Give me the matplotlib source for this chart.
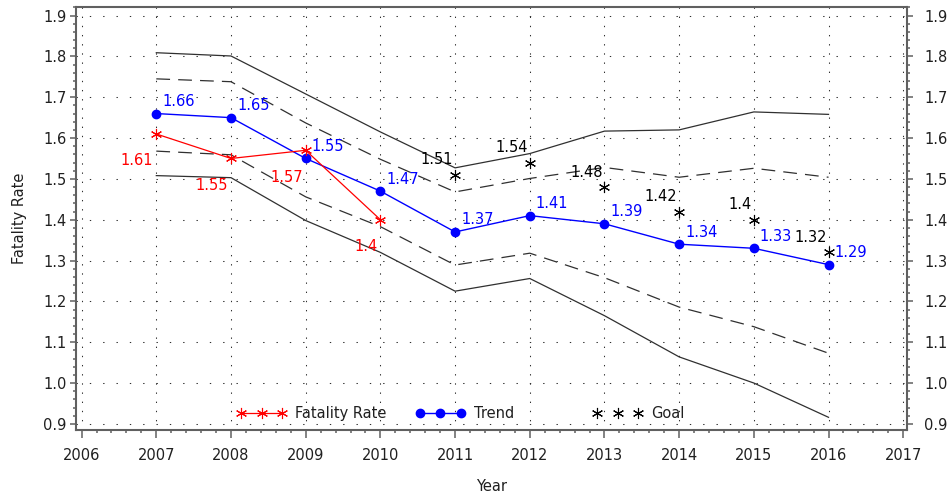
import matplotlib
matplotlib.use("Agg")
import matplotlib.pyplot as plt
from matplotlib.lines import Line2D
from matplotlib.legend import Legend
from matplotlib.ticker import MultipleLocator, FixedLocator, FormatStrFormatter

# ---- data -------------------------------------------------------------
years = [2007, 2008, 2009, 2010, 2011, 2012, 2013, 2014, 2015, 2016]

fatality_years = [2007, 2008, 2009, 2010]
fatality_rate = [1.61, 1.55, 1.57, 1.4]

trend = [1.66, 1.65, 1.55, 1.47, 1.37, 1.41, 1.39, 1.34, 1.33, 1.29]

goal_years = [2011, 2012, 2013, 2014, 2015, 2016]
goal = [1.51, 1.54, 1.48, 1.42, 1.4, 1.32]

upper_outer = [1.809, 1.801, 1.708, 1.615, 1.527, 1.562, 1.617, 1.620, 1.664, 1.658]
upper_inner = [1.745, 1.738, 1.637, 1.548, 1.468, 1.501, 1.528, 1.504, 1.526, 1.504]
lower_inner = [1.568, 1.559, 1.456, 1.383, 1.289, 1.318, 1.258, 1.186, 1.138, 1.073]
lower_outer = [1.508, 1.503, 1.398, 1.320, 1.225, 1.256, 1.165, 1.064, 1.000, 0.916]

x_ticks = list(range(2006, 2018))
y_ticks = [0.9, 1.0, 1.1, 1.2, 1.3, 1.4, 1.5, 1.6, 1.7, 1.8, 1.9]

# ---- style ------------------------------------------------------------
FS = 10.5
TXT = "#202020"
AX = "#606060"
plt.rcParams["font.family"] = ["DejaVu Sans"]
plt.rcParams["font.size"] = FS

fig = plt.figure(figsize=(9.49, 4.96), dpi=100)
ax = fig.add_axes([0.0801, 0.1331, 0.8756, 0.8528])

ax.set_xlim(2005.925, 2017.05)
ax.set_ylim(0.885, 1.921)

# dotted reference grid
for yv in y_ticks:
    ax.axhline(yv, color="#303030", lw=0.75, dashes=(1.3, 11.5), zorder=0)
for xv in x_ticks:
    ax.axvline(xv, color="#303030", lw=0.75, dashes=(1.3, 7.5), zorder=0)

# confidence bands
band_kw = dict(color="#303030", lw=0.9, zorder=2)
ax.plot(years, upper_outer, **band_kw)
ax.plot(years, lower_outer, **band_kw)
ax.plot(years, upper_inner, dashes=(11, 6.5), **band_kw)
ax.plot(years, lower_inner, dashes=(11, 6.5), **band_kw)

star = (6, 2, 0)
STAR_MS = 8
STAR_MEW = 0.8

# series
ax.plot(years, trend, color="#0000FF", lw=1.0, marker="o", ms=6.0,
        mec="#0000FF", mfc="#0000FF", zorder=4)
ax.plot(fatality_years, fatality_rate, color="#FF0000", lw=0.9, marker=star,
        ms=STAR_MS, mew=STAR_MEW, mec="#FF0000", zorder=5)
ax.plot(goal_years, goal, ls="none", marker=star, ms=STAR_MS, mew=STAR_MEW,
        mec="#000000", color="#000000", zorder=5)

# value labels
for x, v in zip(years, trend):
    ax.annotate(f"{v:g}", (x, v), xytext=(6, 12), textcoords="offset pixels",
                ha="left", va="center", color="#0000FF", fontsize=FS, zorder=6)
for x, v in zip(fatality_years, fatality_rate):
    ax.annotate(f"{v:g}", (x, v), xytext=(-3, -27), textcoords="offset pixels",
                ha="right", va="center", color="#FF0000", fontsize=FS, zorder=6)
for x, v in zip(goal_years, goal):
    ax.annotate(f"{v:g}", (x, v), xytext=(-2, 15), textcoords="offset pixels",
                ha="right", va="center", color="#000000", fontsize=FS, zorder=6)

# axes, ticks
for s in ax.spines.values():
    s.set_color(AX)
    s.set_linewidth(1.5)

ax.xaxis.set_major_locator(FixedLocator(x_ticks))
ax.xaxis.set_minor_locator(MultipleLocator(0.2))
ax.yaxis.set_major_locator(FixedLocator(y_ticks))
ax.yaxis.set_minor_locator(MultipleLocator(0.02))
ax.yaxis.set_major_formatter(FormatStrFormatter("%.1f"))

ax.tick_params(axis="x", which="major", length=5.8, width=1.1, color=AX,
               pad=7.0, labelcolor=TXT, labelsize=FS)
ax.tick_params(axis="x", which="minor", length=2.5, width=1.1, color=AX)
ax.tick_params(axis="y", which="major", length=4.0, width=1.1, color=AX,
               pad=2.7, labelcolor=TXT, labelsize=FS)
ax.tick_params(axis="y", which="minor", length=2.4, width=1.1, color=AX)

ax2 = ax.twinx()
ax2.set_ylim(ax.get_ylim())
ax2.yaxis.set_major_locator(FixedLocator(y_ticks))
ax2.yaxis.set_minor_locator(MultipleLocator(0.02))
ax2.yaxis.set_major_formatter(FormatStrFormatter("%.1f"))
ax2.tick_params(axis="y", which="major", length=4.0, width=1.1, color=AX,
                pad=8.6, labelcolor=TXT, labelsize=FS)
ax2.tick_params(axis="y", which="minor", length=2.4, width=1.1, color=AX)
for s in ax2.spines.values():
    s.set_visible(False)

ax.set_xlabel("Year", color=TXT, fontsize=FS)
ax.xaxis.set_label_coords(0.5, -0.116)
ax.set_ylabel("Fatality Rate", color=TXT, fontsize=FS)
ax.yaxis.set_label_coords(-0.0585, 0.5)

# legend entries placed along the bottom of the plot area
entries = [
    (Line2D([], [], color="#FF0000", lw=0.9, marker=star, ms=STAR_MS,
            mew=STAR_MEW, mec="#FF0000"), "Fatality Rate", 0.1937),
    (Line2D([], [], color="#0000FF", lw=1.0, marker="o", ms=6.0,
            mec="#0000FF", mfc="#0000FF"), "Trend", 0.4088),
    (Line2D([], [], ls="none", marker=star, ms=STAR_MS, mew=STAR_MEW,
            mec="#000000", color="#000000"), "Goal", 0.622),
]
for handle, label, xpos in entries:
    leg = Legend(ax, [handle], [label], loc="center left",
                 bbox_to_anchor=(xpos, 0.0378), frameon=False,
                 numpoints=3, handlelength=3.4, handletextpad=0.6,
                 borderpad=0, borderaxespad=0, fontsize=FS,
                 labelcolor=TXT)
    ax.add_artist(leg)

fig.savefig("out.png", dpi=100)
